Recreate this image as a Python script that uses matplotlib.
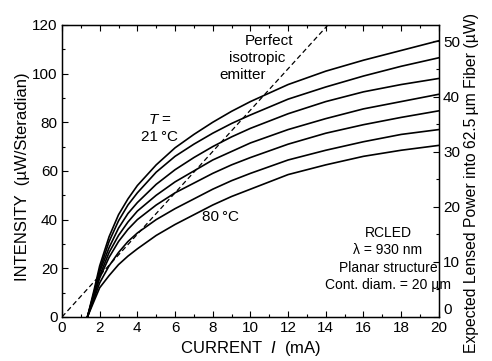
import matplotlib
matplotlib.use("Agg")
import matplotlib.pyplot as plt
from matplotlib.ticker import MultipleLocator

plt.rcParams['font.family'] = ['Liberation Sans', 'DejaVu Sans']
plt.rcParams['mathtext.fontset'] = 'custom'
plt.rcParams['mathtext.rm'] = 'Liberation Sans'
plt.rcParams['mathtext.it'] = 'Liberation Sans:italic'

# Current (mA)
current = [1.35, 1.7, 2.0, 2.5, 3.0, 3.5, 4.0, 5.0, 6.0, 7.0, 8.0, 9.0, 10.0, 12.0, 14.0, 16.0, 18.0, 20.0]

# Intensity (uW/sr) curves, from 21 C (top) to 80 C (bottom)
curve_21C = [0, 11, 21, 33, 42, 48.5, 54, 62.5, 69.5, 75, 80, 84.5, 88.5, 95.5, 101, 105.5, 109.5, 113.5]
curve_2 = [0, 10, 19.5, 31, 39.5, 46, 51, 59.5, 66, 71, 75.5, 79.5, 83, 89.5, 94.5, 99, 103, 106.5]
curve_3 = [0, 9.5, 18.5, 28.5, 36.5, 42.5, 47, 54.5, 60.5, 65.5, 70, 74, 77.5, 83.5, 88.5, 92.5, 95.5, 98]
curve_4 = [0, 9, 17, 26.5, 33.5, 39, 43.5, 50, 55.5, 60, 64.5, 68, 71.5, 77, 81.5, 85.5, 88.5, 91.5]
curve_5 = [0, 8.5, 16, 24.5, 31, 36, 40, 46, 51, 55, 59, 62.5, 65.5, 71, 75.5, 79, 82, 84.7]
curve_6 = [0, 7.5, 14, 21, 26.5, 31, 34.5, 40, 44.5, 48.5, 52.5, 56, 59, 64.5, 68.5, 72, 75, 77]
curve_80C = [0, 6.5, 12, 17, 21.5, 25, 28, 33.5, 38, 42, 46, 49.5, 52.5, 58.5, 62.5, 66, 68.5, 70.5]
curves = [curve_21C, curve_2, curve_3, curve_4, curve_5, curve_6, curve_80C]

# Perfect isotropic emitter line
iso_current = [0, 20]
iso_intensity = [0, 170]

fig = plt.figure(figsize=(4.92, 3.61), dpi=100)
ax = fig.add_axes([0.126, 0.122, 0.766, 0.809])

for c in curves:
    ax.plot(current, c, color='black', lw=1.2, solid_capstyle='round')
ax.plot(iso_current, iso_intensity, color='black', lw=0.9, dashes=(4, 2.5))

ax.set_xlim(0, 20)
ax.set_ylim(0, 120)
ax.xaxis.set_major_locator(MultipleLocator(2))
ax.xaxis.set_minor_locator(MultipleLocator(1))
ax.yaxis.set_major_locator(MultipleLocator(20))
ax.yaxis.set_minor_locator(MultipleLocator(10))
ax.tick_params(which='both', direction='in', top=True, right=False, labelsize=11, pad=3)
ax.tick_params(which='major', length=4, width=0.8)
ax.tick_params(which='minor', length=2.5, width=0.8)
for s in ax.spines.values():
    s.set_linewidth(1.0)

ax2 = ax.twinx()
ax2.set_ylim(0, 53)
ax2.yaxis.set_major_locator(MultipleLocator(10))
ax2.yaxis.set_minor_locator(MultipleLocator(5))
ax2.tick_params(which='both', direction='in', labelsize=11, pad=3)
ax2.tick_params(which='major', length=4, width=0.8)
ax2.tick_params(which='minor', length=2.5, width=0.8)

ax.set_xlabel('CURRENT  $\\mathit{I}$  (mA)', fontsize=12, labelpad=3)
ax.set_ylabel('INTENSITY  (\u00b5W/Steradian)', fontsize=12, labelpad=2)
ax.yaxis.label.set_y(0.48)
ax2.set_ylabel('Expected Lensed Power into 62.5\u2009\u00b5m Fiber (\u00b5W)', fontsize=11.3, labelpad=3)
ax2.yaxis.label.set_y(0.46)

fs = 11
ax.text(11.0, 113.5, 'Perfect', fontsize=fs, ha='center', va='center')
ax.text(10.35, 106.5, 'isotropic', fontsize=fs, ha='center', va='center')
ax.text(9.6, 99.5, 'emitter', fontsize=fs, ha='center', va='center')
ax.text(5.2, 81, '$\\mathit{T}$ =', fontsize=fs, ha='center', va='center')
ax.text(5.2, 74, '21\u2009\u00b0C', fontsize=fs, ha='center', va='center')
ax.text(8.4, 41, '80\u2009\u00b0C', fontsize=fs, ha='center', va='center')
fb = 10
ax.text(17.3, 34.5, 'RCLED', fontsize=fb, ha='center', va='center')
ax.text(17.3, 27.5, '\u03bb = 930 nm', fontsize=fb, ha='center', va='center')
ax.text(17.3, 20.3, 'Planar structure', fontsize=fb, ha='center', va='center')
ax.text(17.3, 13.0, 'Cont. diam. = 20 \u00b5m', fontsize=fb, ha='center', va='center')

# Nudge the crowded corner labels apart (as in the reference)
fig.canvas.draw()
xt = ax.get_xticklabels()
xt[-1].set_horizontalalignment('right')
xt[-1].set_x(20)
yt2 = [t for t in ax2.get_yticklabels() if t.get_text() in ('0', '\u22120')]
for t in yt2:
    if abs(t.get_position()[1]) < 1e-9:
        t.set_verticalalignment('bottom')

fig.savefig('out.png', dpi=100)
